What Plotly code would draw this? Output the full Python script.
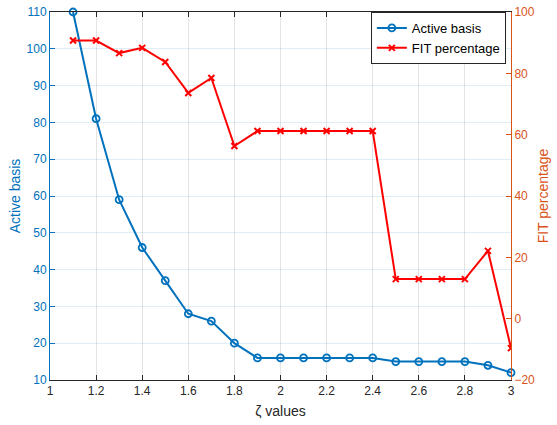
import plotly.graph_objects as go

zeta = [1.1, 1.2, 1.3, 1.4, 1.5, 1.6, 1.7, 1.8, 1.9, 2.0, 2.1, 2.2, 2.3, 2.4,
        2.5, 2.6, 2.7, 2.8, 2.9, 3.0]
active_basis = [110, 81, 59, 46, 37, 28, 26, 20, 16, 16, 16, 16, 16, 16,
                15, 15, 15, 15, 14, 12]
fit_percentage = [90.7, 90.7, 86.6, 88.3, 83.7, 73.6, 78.5, 56.3, 61.2, 61.2,
                  61.2, 61.2, 61.2, 61.2, 12.9, 12.9, 12.9, 12.9, 22.1, -9.6]

x_ticks = [1, 1.2, 1.4, 1.6, 1.8, 2, 2.2, 2.4, 2.6, 2.8, 3]
left_ticks = [10, 20, 30, 40, 50, 60, 70, 80, 90, 100, 110]
right_ticks = [-20, 0, 20, 40, 60, 80, 100]

BLUE = "#0072BD"
ORANGE = "#D95319"
RED = "#FF0000"
FONT = "Liberation Sans, Arial, sans-serif"

fig = go.Figure()
fig.add_trace(go.Scatter(
    x=zeta, y=active_basis, name="Active basis", mode="lines+markers",
    line=dict(color=BLUE, width=2),
    marker=dict(symbol="circle-open", size=7, color=BLUE, line=dict(width=1.8)),
    cliponaxis=False,
))
fig.add_trace(go.Scatter(
    x=zeta, y=fit_percentage, name="FIT percentage", mode="lines+markers",
    line=dict(color=RED, width=2),
    marker=dict(symbol="x-thin", size=6, color=RED, line=dict(width=2, color=RED)),
    yaxis="y2",
))

fig.update_layout(
    width=557, height=425,
    margin=dict(l=50, r=46, t=12, b=45, autoexpand=False),
    paper_bgcolor="white", plot_bgcolor="white",
    font=dict(family=FONT, size=12, color="#262626"),
    showlegend=True,
    legend=dict(
        x=0.696, y=1.0, xanchor="left", yanchor="top",
        bgcolor="white", bordercolor="#262626", borderwidth=1,
        font=dict(size=13, color="black"),
        tracegroupgap=0, itemwidth=30,
    ),
    xaxis=dict(
        range=[1, 3], tickvals=x_ticks, ticktext=[f"{v:g}" for v in x_ticks],
        showline=True, linecolor="#262626", linewidth=1, mirror="ticks",
        ticks="inside", ticklen=5, tickcolor="#262626",
        showgrid=True, gridcolor="rgba(38,38,38,0.13)", gridwidth=1,
        zeroline=False, automargin=False,
        title=dict(text="ζ values", font=dict(size=14, color="#262626"), standoff=8),
        tickfont=dict(size=12, color="#262626"),
    ),
    yaxis=dict(
        range=[10, 110], tickvals=left_ticks,
        showline=True, linecolor=BLUE, linewidth=1,
        ticks="inside", ticklen=5, tickcolor=BLUE,
        showgrid=True, gridcolor="rgba(0,114,189,0.13)", gridwidth=1,
        zeroline=False, automargin=False,
        tickfont=dict(size=12, color=BLUE),
        title=dict(text="Active basis", font=dict(size=14, color=BLUE), standoff=2),
    ),
    yaxis2=dict(
        range=[-20, 100], tickvals=right_ticks, overlaying="y", side="right",
        showline=True, linecolor=ORANGE, linewidth=1,
        ticks="inside", ticklen=5, tickcolor=ORANGE,
        showgrid=False, zeroline=False, automargin=False,
        tickfont=dict(size=12, color=ORANGE),
        title=dict(text="FIT percentage", font=dict(size=14, color=ORANGE), standoff=4),
    ),
)

fig.write_html("out.html")
